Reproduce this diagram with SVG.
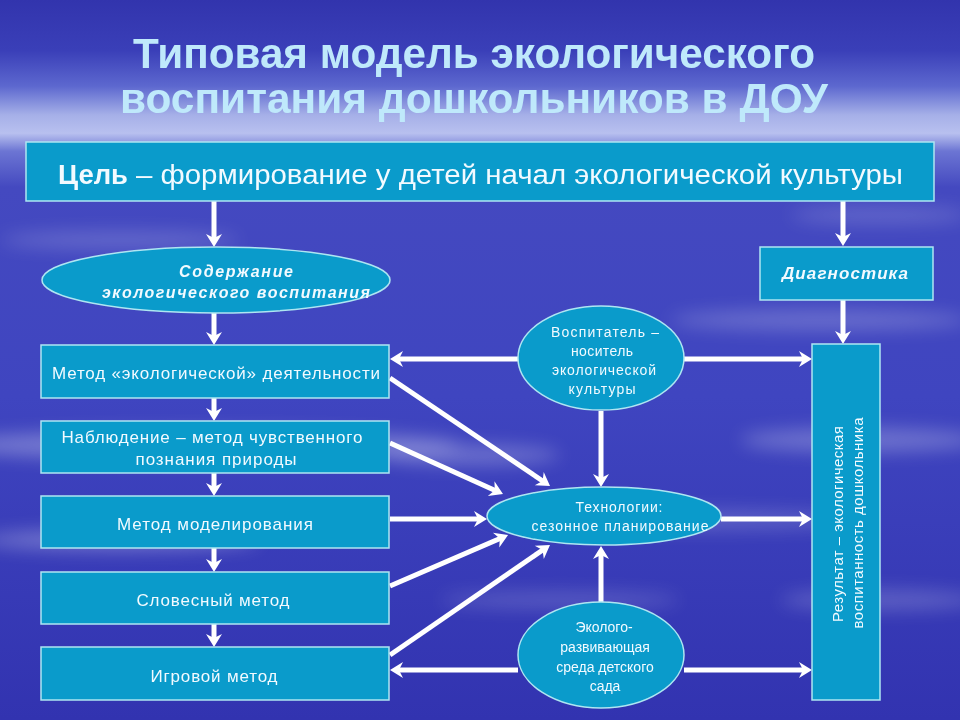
<svg xmlns="http://www.w3.org/2000/svg" width="960" height="720" viewBox="0 0 960 720">
<defs>
<linearGradient id="bg" x1="0" y1="0" x2="0" y2="1">
<stop offset="0" stop-color="#3234ad"/>
<stop offset="0.07" stop-color="#3a3fb8"/>
<stop offset="0.12" stop-color="#5d68cf"/>
<stop offset="0.16" stop-color="#a6b0e8"/>
<stop offset="0.185" stop-color="#b8c0ef"/>
<stop offset="0.21" stop-color="#6c75d3"/>
<stop offset="0.26" stop-color="#4449c0"/>
<stop offset="0.55" stop-color="#3f45c0"/>
<stop offset="1" stop-color="#3233b0"/>
</linearGradient>
<filter id="blur" x="-50%" y="-50%" width="200%" height="200%"><feGaussianBlur stdDeviation="9"/></filter>
<marker id="ah" markerUnits="userSpaceOnUse" markerWidth="20" markerHeight="20" viewBox="-6 -10 16 20" refX="0" refY="0" orient="auto">
<path d="M-5,-8 L8,0 L-5,8 L-1,0 Z" fill="#ffffff"/>
</marker>
<style>
.box{fill:#0a9bcb;stroke:#aee6f2;stroke-width:1.5}
.t{font-family:"Liberation Sans",Arial,sans-serif;fill:#f2faff;text-anchor:middle}
.s{text-anchor:start}
.bi{font-weight:bold;font-style:italic}
.title{font-family:"Liberation Sans",Arial,sans-serif;font-weight:bold;font-size:43px;fill:#bfe9fb;text-anchor:middle}
.c{stroke:#ffffff;stroke-width:5;fill:none;marker-end:url(#ah)}
</style>
</defs>
<rect width="960" height="720" fill="url(#bg)"/>
<g filter="url(#blur)" fill="#ffffff">
<ellipse cx="200" cy="445" rx="260" ry="14" opacity="0.3"/>
<ellipse cx="120" cy="540" rx="140" ry="10" opacity="0.3"/>
<ellipse cx="470" cy="455" rx="90" ry="10" opacity="0.25"/>
<ellipse cx="820" cy="320" rx="150" ry="10" opacity="0.22"/>
<ellipse cx="860" cy="440" rx="120" ry="12" opacity="0.25"/>
<ellipse cx="700" cy="520" rx="160" ry="9" opacity="0.2"/>
<ellipse cx="880" cy="600" rx="100" ry="10" opacity="0.2"/>
<ellipse cx="560" cy="600" rx="120" ry="8" opacity="0.18"/>
<ellipse cx="120" cy="240" rx="120" ry="8" opacity="0.2"/>
<ellipse cx="880" cy="215" rx="90" ry="8" opacity="0.18"/>
</g>

<text class="title" x="474" y="68" textLength="682" lengthAdjust="spacingAndGlyphs">Типовая модель экологического</text>
<text class="title" x="474" y="113" textLength="708" lengthAdjust="spacingAndGlyphs" fill="#c4ecfc">воспитания дошкольников в ДОУ</text>

<g id="connectors">
<line class="c" x1="214" y1="201" x2="214" y2="239"/>
<line class="c" x1="843" y1="201" x2="843" y2="238"/>
<line class="c" x1="214" y1="313" x2="214" y2="337"/>
<line class="c" x1="843" y1="300" x2="843" y2="336"/>
<line class="c" x1="214" y1="398" x2="214" y2="413"/>
<line class="c" x1="214" y1="473" x2="214" y2="488"/>
<line class="c" x1="214" y1="548" x2="214" y2="564"/>
<line class="c" x1="214" y1="624" x2="214" y2="639"/>
<line class="c" x1="518" y1="359" x2="398" y2="359"/>
<line class="c" x1="684" y1="359" x2="804" y2="359"/>
<line class="c" x1="601" y1="411" x2="601" y2="479"/>
<line class="c" x1="601" y1="603" x2="601" y2="554"/>
<line class="c" x1="518" y1="670" x2="398" y2="670"/>
<line class="c" x1="684" y1="670" x2="804" y2="670"/>
<line class="c" x1="721" y1="519" x2="804" y2="519"/>
<line class="c" x1="390" y1="519" x2="479" y2="519"/>
<line class="c" x1="390" y1="378" x2="543.4" y2="481.5"/>
<line class="c" x1="390" y1="443" x2="495.7" y2="490.7"/>
<line class="c" x1="390" y1="586" x2="500.7" y2="538.2"/>
<line class="c" x1="390" y1="655" x2="543.4" y2="549.5"/>
</g>

<g id="goal">
<rect class="box" x="26" y="142" width="908" height="59"/>
<text class="t s" x="58" y="184" font-size="27" font-weight="bold" textLength="70" lengthAdjust="spacingAndGlyphs">Цель</text>
<text class="t s" x="136" y="184" font-size="27" textLength="767" lengthAdjust="spacingAndGlyphs">– формирование у детей начал экологической культуры</text>
</g>

<g id="content">
<ellipse class="box" cx="216" cy="280" rx="174" ry="33"/>
<text class="t bi" x="236" y="277" font-size="16" textLength="114" lengthAdjust="spacing">Содержание</text>
<text class="t bi" x="236" y="298" font-size="16" textLength="268" lengthAdjust="spacing">экологического воспитания</text>
</g>

<g id="diagnostics">
<rect class="box" x="760" y="247" width="173" height="53"/>
<text class="t bi" x="845" y="279" font-size="17" textLength="126" lengthAdjust="spacing">Диагностика</text>
</g>

<g id="result">
<rect class="box" x="812" y="344" width="68" height="356"/>
<text class="t" x="843" y="524" font-size="15" transform="rotate(-90 843 524)" textLength="196" lengthAdjust="spacing">Результат – экологическая</text>
<text class="t" x="863" y="523" font-size="15" transform="rotate(-90 863 523)" textLength="211" lengthAdjust="spacing">воспитанность дошкольника</text>
</g>

<g id="m1">
<rect class="box" x="41" y="345" width="348" height="53"/>
<text class="t" x="216" y="379" font-size="17" textLength="328" lengthAdjust="spacing">Метод «экологической» деятельности</text>
</g>
<g id="m2">
<rect class="box" x="41" y="421" width="348" height="52"/>
<text class="t" x="212" y="443" font-size="17" textLength="301" lengthAdjust="spacing">Наблюдение – метод чувственного</text>
<text class="t" x="216" y="465" font-size="17" textLength="161" lengthAdjust="spacing">познания природы</text>
</g>
<g id="m3">
<rect class="box" x="41" y="496" width="348" height="52"/>
<text class="t" x="215" y="530" font-size="17" textLength="196" lengthAdjust="spacing">Метод моделирования</text>
</g>
<g id="m4">
<rect class="box" x="41" y="572" width="348" height="52"/>
<text class="t" x="213" y="606" font-size="17" textLength="153" lengthAdjust="spacing">Словесный метод</text>
</g>
<g id="m5">
<rect class="box" x="41" y="647" width="348" height="53"/>
<text class="t" x="214" y="682" font-size="17" textLength="127" lengthAdjust="spacing">Игровой метод</text>
</g>

<g id="teacher">
<ellipse class="box" cx="601" cy="358" rx="83" ry="52"/>
<text class="t" x="605" y="337" font-size="14" textLength="108" lengthAdjust="spacing">Воспитатель –</text>
<text class="t" x="602" y="356" font-size="14" textLength="62" lengthAdjust="spacing">носитель</text>
<text class="t" x="604" y="375" font-size="14" textLength="104" lengthAdjust="spacing">экологической</text>
<text class="t" x="602" y="394" font-size="14" textLength="67" lengthAdjust="spacing">культуры</text>
</g>

<g id="tech">
<ellipse class="box" cx="604" cy="516" rx="117" ry="29"/>
<text class="t" x="619" y="512" font-size="14" textLength="87" lengthAdjust="spacing">Технологии:</text>
<text class="t" x="620" y="531" font-size="14" textLength="177" lengthAdjust="spacing">сезонное планирование</text>
</g>

<g id="env">
<ellipse class="box" cx="601" cy="655" rx="83" ry="53"/>
<text class="t" x="604" y="632" font-size="14">Эколого-</text>
<text class="t" x="605" y="652" font-size="14">развивающая</text>
<text class="t" x="605" y="672" font-size="14">среда детского</text>
<text class="t" x="605" y="691" font-size="14">сада</text>
</g>
</svg>
